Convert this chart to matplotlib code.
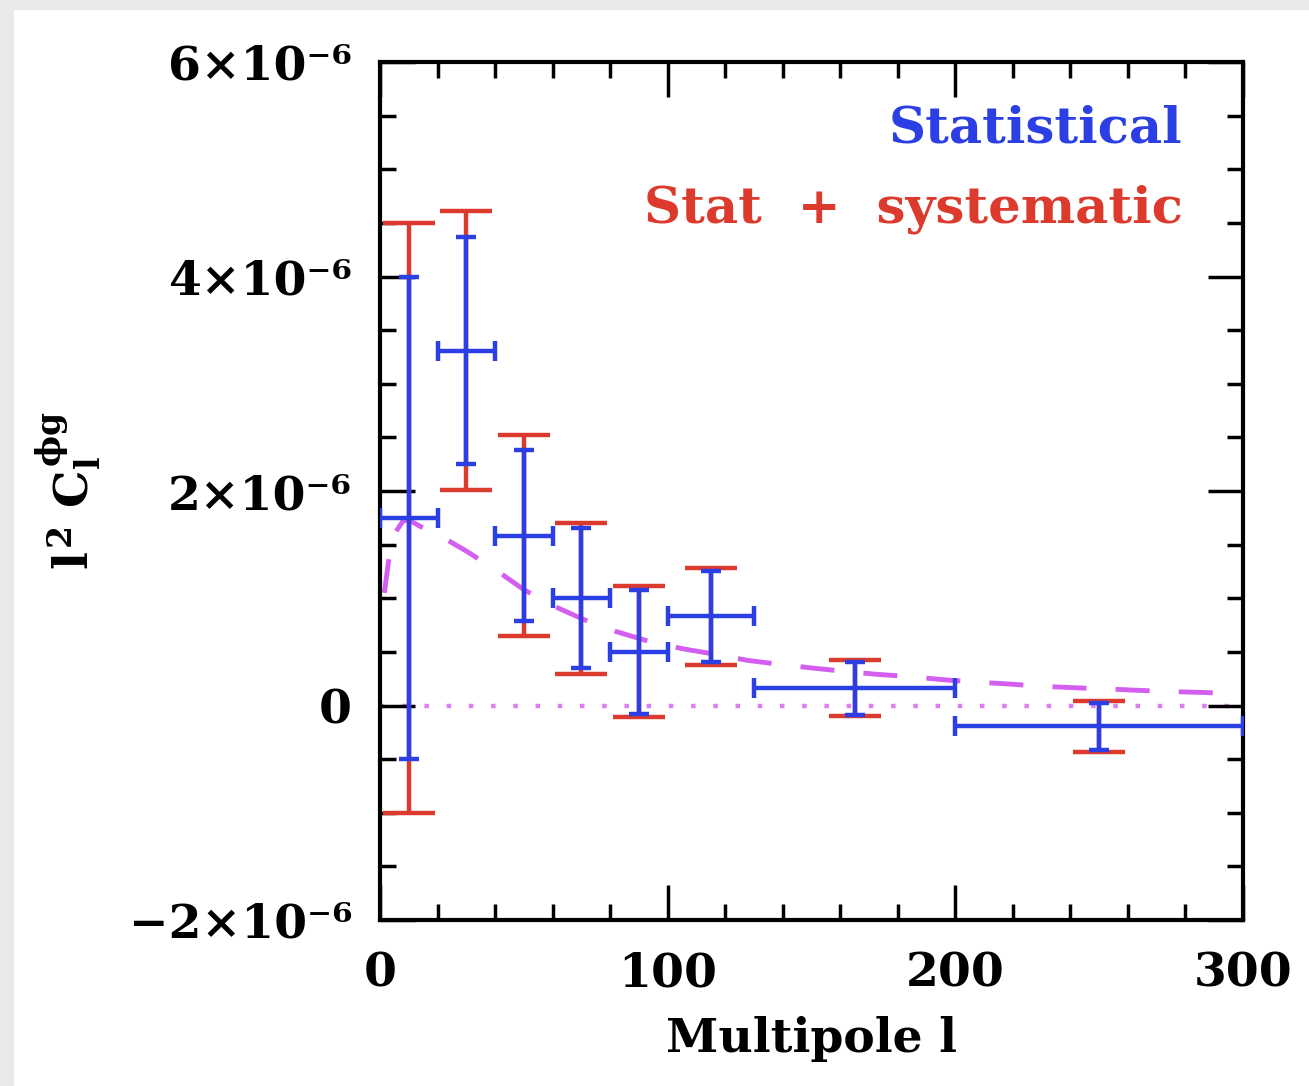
import numpy as np
import matplotlib
matplotlib.use("Agg")
import matplotlib.pyplot as plt
from matplotlib.patches import Rectangle

# band centres, half widths (multipole l), values in units of 1e-6
ell = [10, 30, 50, 70, 90, 115, 165, 250]
ell_err = [10, 10, 10, 10, 10, 15, 35, 50]
cl = [1.75, 3.31, 1.585, 1.0, 0.5, 0.83, 0.16, -0.195]
stat_err = [2.25, 1.06, 0.80, 0.655, 0.58, 0.42, 0.25, 0.22]
tot_err = [2.75, 1.30, 0.935, 0.705, 0.61, 0.45, 0.26, 0.24]

# theory curve (dashed)
th_l = [1.5, 3, 5, 8, 10, 14, 21, 30, 41, 50, 61, 71, 82, 92, 105, 116, 128,
        137, 150, 161, 173, 184, 196, 206, 219, 229, 242, 252, 265, 275, 288, 300]
th_cl = [1.05, 1.35, 1.6, 1.72, 1.73, 1.67, 1.58, 1.44, 1.25, 1.08, 0.92, 0.80,
         0.69, 0.61, 0.53, 0.48, 0.42, 0.39, 0.35, 0.32, 0.29, 0.27, 0.24, 0.22,
         0.20, 0.18, 0.165, 0.155, 0.14, 0.13, 0.12, 0.11]

yticks = [-2, 0, 2, 4, 6]
ytick_labels = ["\u22122\u00d710\u207b\u2076", "0", "2\u00d710\u207b\u2076",
                "4\u00d710\u207b\u2076", "6\u00d710\u207b\u2076"]

BLUE = "#2b3fe4"
RED = "#dc3a2c"
MAG = "#d45ef0"
FONT = "DejaVu Serif"

plt.rcParams["font.family"] = FONT
plt.rcParams["font.weight"] = "bold"
plt.rcParams["mathtext.fontset"] = "custom"
plt.rcParams["mathtext.rm"] = "DejaVu Serif:bold"
plt.rcParams["mathtext.it"] = "DejaVu Serif:bold"
plt.rcParams["mathtext.bf"] = "DejaVu Serif:bold"

fig = plt.figure(figsize=(13.09, 10.86), dpi=100)
fig.patch.set_facecolor("#e9e9e9")
fig.patches.append(Rectangle((14 / 1309, 0), 1, 1 - 10 / 1086, transform=fig.transFigure,
                             facecolor="white", edgecolor="none", zorder=-1))

ax = fig.add_axes([380 / 1309, 1 - 920 / 1086, (1243 - 380) / 1309, (920 - 62) / 1086])

ax.plot(th_l, th_cl, color=MAG, lw=3.5, ls=(0, (7, 6)), zorder=2)
ax.axhline(0, color=MAG, lw=3.2, ls=(0, (1, 4)), alpha=0.8, zorder=1)

ax.errorbar(ell, cl, yerr=tot_err, fmt="none", ecolor=RED, elinewidth=3.2,
            capsize=19, capthick=3.2, zorder=3)
ax.errorbar(ell, cl, xerr=ell_err, yerr=stat_err, fmt="none", ecolor=BLUE,
            elinewidth=3.2, capsize=7, capthick=3.2, zorder=4)

ax.set_xlim(0, 300)
ax.set_ylim(-2, 6)
ax.set_xticks([0, 100, 200, 300])
ax.set_xticks(np.arange(0, 301, 20), minor=True)
ax.set_yticks(yticks)
ax.set_yticklabels(ytick_labels)
ax.set_yticks(np.arange(-2, 6.01, 0.5), minor=True)

ax.tick_params(which="both", direction="in", top=True, right=True, width=2.5,
               labelsize=34)
ax.tick_params(which="major", length=25)
ax.tick_params(which="minor", length=11.5)
ax.tick_params(axis="x", pad=22)
ax.tick_params(axis="y", pad=20)
for s in ax.spines.values():
    s.set_linewidth(3)

ax.set_xlabel("Multipole l", fontsize=34, fontweight="bold", labelpad=14)
ax.set_ylabel(r"$l^2\ C_l^{\phi g}$", fontsize=34, labelpad=18)

ax.text(0.93, 0.922, "Statistical", transform=ax.transAxes, ha="right", va="center",
        color=BLUE, fontsize=37, fontweight="bold")
ax.text(0.93, 0.828, "Stat  +  systematic", transform=ax.transAxes, ha="right", va="center",
        color=RED, fontsize=37, fontweight="bold")

fig.savefig("out.png", dpi=100, facecolor=fig.get_facecolor())
